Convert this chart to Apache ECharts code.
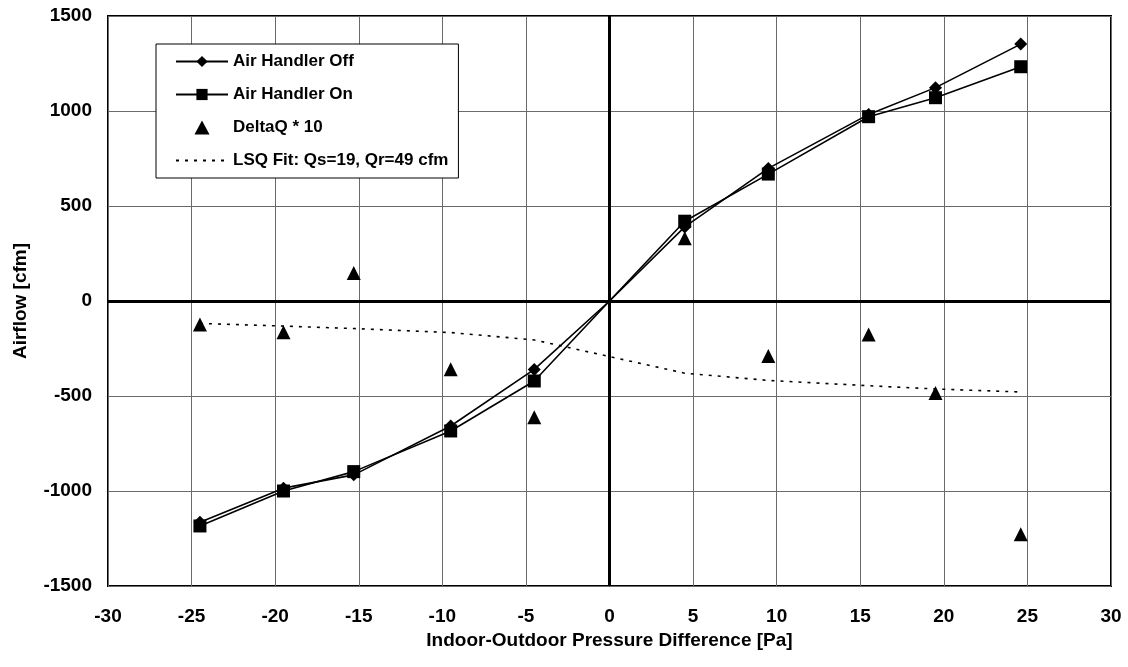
<!DOCTYPE html>
<html>
<head>
<meta charset="utf-8">
<script src="https://cdn.jsdelivr.net/npm/echarts@6/dist/echarts.min.js"></script>
<style>
html,body{margin:0;padding:0;background:#fff;}
#chart{width:1128px;height:667px;}
</style>
</head>
<body>
<div id="chart"></div>
<script>
// ---- data ----
var pressureX = [-24.5, -19.5, -15.3, -9.5, -4.5, 0, 4.5, 9.5, 15.5, 19.5, 24.6];
var airHandlerOff = [-1165, -985, -915, -658, -360, 0, 390, 698, 982, 1123, 1352];
var airHandlerOn  = [-1184, -1000, -898, -684, -421, 0, 420, 668, 970, 1070, 1233];
var deltaX = [-24.5, -19.5, -15.3, -9.5, -4.5, 4.5, 9.5, 15.5, 19.5, 24.6];
var deltaQ10 = [-124, -165, 147, -359, -612, 330, -290, -176, -484, -1228];
var fitX = [-24.5, -19.5, -15.3, -9.5, -4.5, 4.5, 9.5, 15.5, 19.5, 24.6];
var fitY = [-118, -132, -145, -166, -205, -380, -418, -446, -463, -479];
var seriesNames = ['Air Handler Off', 'Air Handler On', 'DeltaQ * 10', 'LSQ Fit: Qs=19, Qr=49 cfm'];
var xTitle = 'Indoor-Outdoor Pressure Difference [Pa]';
var yTitle = 'Airflow [cfm]';

function pairs(xs, ys, hideZero) {
  return xs.map(function (x, i) {
    var item = { value: [x, ys[i]] };
    if (hideZero && x === 0 && ys[i] === 0) item.symbol = 'none';
    return item;
  });
}

var FONT = '"Liberation Sans", Arial, sans-serif';
var chart = echarts.init(document.getElementById('chart'), null, { renderer: 'canvas' });
chart.setOption({
  animation: false,
  backgroundColor: '#ffffff',
  textStyle: { fontFamily: FONT, fontWeight: 'bold', color: '#000' },
  grid: {
    left: 108, right: 17, top: 16, bottom: 81,
    show: true, borderColor: '#000', borderWidth: 2, backgroundColor: 'transparent'
  },
  legend: {
    orient: 'vertical',
    left: 156, top: 44,
    padding: [9, 10, 9, 19],
    itemWidth: 52, itemHeight: 14, itemGap: 16,
    backgroundColor: '#ffffff',
    borderColor: '#000', borderWidth: 1, borderRadius: 0,
    textStyle: { fontFamily: FONT, fontWeight: 'bold', fontSize: 17, color: '#000' },
    data: [
      { name: seriesNames[0] },
      { name: seriesNames[1] },
      { name: seriesNames[2], icon: 'path://M7,0L14,13L0,13Z' },
      { name: seriesNames[3], itemStyle: { color: 'rgba(0,0,0,0)', borderWidth: 0, opacity: 0 } }
    ]
  },
  xAxis: {
    type: 'value', min: -30, max: 30, interval: 5,
    name: xTitle, nameLocation: 'middle', nameGap: 44,
    nameTextStyle: { fontFamily: FONT, fontWeight: 'bold', fontSize: 19, color: '#000' },
    axisLine: { show: false },
    axisTick: { show: false },
    axisLabel: { fontFamily: FONT, fontWeight: 'bold', fontSize: 19, color: '#000', margin: 21 },
    splitLine: { show: true, lineStyle: { color: '#6a6a6a', width: 1 } }
  },
  yAxis: {
    type: 'value', min: -1500, max: 1500, interval: 500,
    name: yTitle, nameLocation: 'middle', nameGap: 78, nameRotate: 90,
    nameTextStyle: { fontFamily: FONT, fontWeight: 'bold', fontSize: 19, color: '#000' },
    axisLine: { show: false },
    axisTick: { show: false },
    axisLabel: {
      fontFamily: FONT, fontWeight: 'bold', fontSize: 19, color: '#000', margin: 16,
      formatter: function (v) { return String(v); }
    },
    splitLine: { show: true, lineStyle: { color: '#6a6a6a', width: 1 } }
  },
  series: [
    {
      name: seriesNames[0], type: 'line',
      data: pairs(pressureX, airHandlerOff, true),
      symbol: 'diamond', symbolSize: 13, showAllSymbol: true,
      lineStyle: { color: '#000', width: 1.6 },
      itemStyle: { color: '#000' },
      z: 4,
      markLine: {
        silent: true, symbol: 'none', label: { show: false },
        lineStyle: { color: '#000', width: 3, type: 'solid' },
        data: [{ xAxis: 0 }, { yAxis: 0 }],
        z: 1
      }
    },
    {
      name: seriesNames[1], type: 'line',
      data: pairs(pressureX, airHandlerOn, true),
      symbol: 'rect', symbolSize: 13, showAllSymbol: true,
      lineStyle: { color: '#000', width: 1.6 },
      itemStyle: { color: '#000' },
      z: 4
    },
    {
      name: seriesNames[2], type: 'scatter',
      data: pairs(deltaX, deltaQ10, false),
      symbol: 'triangle', symbolSize: 14,
      itemStyle: { color: '#000', opacity: 1 },
      z: 5
    },
    {
      name: seriesNames[3], type: 'line',
      data: pairs(fitX, fitY, false),
      symbol: 'none',
      lineStyle: { color: '#000', width: 1.6, type: [3, 6] },
      itemStyle: { color: '#000' },
      z: 3
    }
  ]
});
</script>
</body>
</html>
